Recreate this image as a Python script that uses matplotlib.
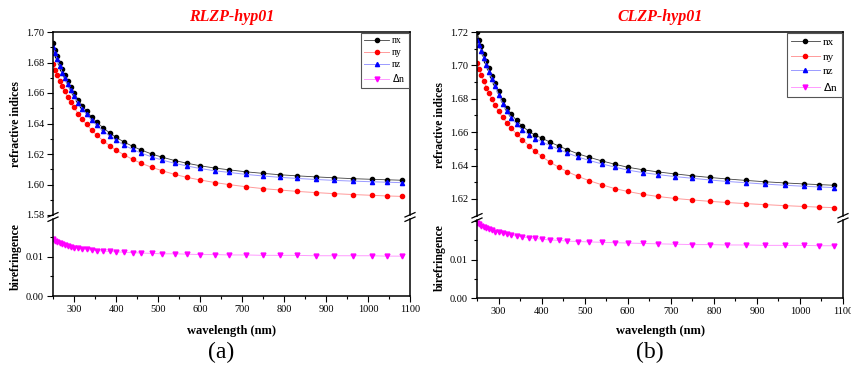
import matplotlib.pyplot as plt
from matplotlib.lines import Line2D
from matplotlib.ticker import FormatStrFormatter, MultipleLocator

plt.rcParams['font.family'] = ['Liberation Serif', 'DejaVu Serif']

# wavelength grid (nm), shared by both samples
wavelength = [250, 255, 260, 266, 272, 278, 285, 292, 300, 310, 320, 330, 342, 355,
              370, 385, 400, 420, 440, 460, 485, 510, 540, 570, 600, 635, 670, 710,
              750, 790, 830, 875, 920, 965, 1010, 1045, 1080]

# (a) RLZP-hyp01
rlzp_nx = [1.6928, 1.6884, 1.6844, 1.6799, 1.6757, 1.6719, 1.6678, 1.6640, 1.6601, 1.6556,
           1.6517, 1.6481, 1.6443, 1.6407, 1.6370, 1.6338, 1.6310, 1.6277, 1.6250, 1.6226,
           1.6200, 1.6179, 1.6157, 1.6139, 1.6123, 1.6108, 1.6096, 1.6083, 1.6073, 1.6064,
           1.6057, 1.6050, 1.6044, 1.6038, 1.6034, 1.6031, 1.6028]
rlzp_ny = [1.6790, 1.6753, 1.6719, 1.6680, 1.6644, 1.6611, 1.6574, 1.6540, 1.6505, 1.6464,
           1.6427, 1.6394, 1.6357, 1.6322, 1.6286, 1.6254, 1.6226, 1.6193, 1.6164, 1.6139,
           1.6113, 1.6090, 1.6066, 1.6046, 1.6030, 1.6013, 1.5999, 1.5985, 1.5973, 1.5964,
           1.5955, 1.5947, 1.5940, 1.5934, 1.5929, 1.5925, 1.5922]
rlzp_nz = [1.6903, 1.6860, 1.6820, 1.6776, 1.6734, 1.6697, 1.6656, 1.6619, 1.6580, 1.6535,
           1.6497, 1.6461, 1.6423, 1.6387, 1.6350, 1.6318, 1.6290, 1.6257, 1.6230, 1.6206,
           1.6181, 1.6160, 1.6139, 1.6121, 1.6105, 1.6090, 1.6079, 1.6066, 1.6056, 1.6047,
           1.6040, 1.6033, 1.6027, 1.6022, 1.6018, 1.6015, 1.6012]
rlzp_dn = [0.0145, 0.0141, 0.0138, 0.0135, 0.0132, 0.0130, 0.0128, 0.0126, 0.0124, 0.0122,
           0.0120, 0.0119, 0.0117, 0.0116, 0.0115, 0.0114, 0.0113, 0.0112, 0.0111, 0.0110,
           0.0109, 0.0108, 0.0108, 0.0107, 0.0106, 0.0106, 0.0105, 0.0105, 0.0104, 0.0104,
           0.0104, 0.0103, 0.0103, 0.0103, 0.0103, 0.0102, 0.0102]

# (b) CLZP-hyp01
clzp_nx = [1.7200, 1.7155, 1.7115, 1.7070, 1.7025, 1.6985, 1.6938, 1.6895, 1.6845, 1.6790,
           1.6745, 1.6707, 1.6670, 1.6637, 1.6606, 1.6582, 1.6565, 1.6540, 1.6517, 1.6495,
           1.6470, 1.6450, 1.6428, 1.6408, 1.6390, 1.6375, 1.6362, 1.6350, 1.6339, 1.6329,
           1.6320, 1.6311, 1.6303, 1.6296, 1.6290, 1.6286, 1.6282]
clzp_ny = [1.7015, 1.6978, 1.6943, 1.6904, 1.6867, 1.6833, 1.6796, 1.6761, 1.6725, 1.6688,
           1.6654, 1.6623, 1.6589, 1.6556, 1.6520, 1.6485, 1.6455, 1.6420, 1.6390, 1.6363,
           1.6335, 1.6310, 1.6285, 1.6262, 1.6245, 1.6228, 1.6215, 1.6203, 1.6194, 1.6186,
           1.6179, 1.6172, 1.6166, 1.6160, 1.6155, 1.6151, 1.6148]
clzp_nz = [1.7155, 1.7120, 1.7085, 1.7044, 1.7001, 1.6962, 1.6917, 1.6875, 1.6825, 1.6770,
           1.6724, 1.6686, 1.6647, 1.6615, 1.6585, 1.6561, 1.6544, 1.6519, 1.6497, 1.6475,
           1.6451, 1.6431, 1.6410, 1.6391, 1.6373, 1.6358, 1.6346, 1.6334, 1.6324, 1.6314,
           1.6305, 1.6297, 1.6289, 1.6282, 1.6276, 1.6272, 1.6268]
clzp_dn = [0.0196, 0.0192, 0.0188, 0.0185, 0.0182, 0.0179, 0.0176, 0.0173, 0.0171, 0.0168,
           0.0166, 0.0164, 0.0161, 0.0159, 0.0157, 0.0155, 0.0153, 0.0151, 0.0150, 0.0148,
           0.0147, 0.0146, 0.0145, 0.0144, 0.0143, 0.0142, 0.0141, 0.0140, 0.0139, 0.0139,
           0.0138, 0.0138, 0.0137, 0.0137, 0.0137, 0.0136, 0.0136]

titles = ["RLZP-hyp01", "CLZP-hyp01"]
panel_tags = ["(a)", "(b)"]
legend_labels = ["nx", "ny", "nz", r"$\Delta$n"]

W, H = 851, 366
fig = plt.figure(figsize=(W / 100, H / 100), dpi=100)


def px_axes(l, t, r, b):
    return fig.add_axes([l / W, 1 - b / H, (r - l) / W, (b - t) / H])


def break_mark(x, y):
    for dy in (-2.2, 2.2):
        fig.add_artist(Line2D([(x - 5) / W, (x + 5) / W],
                              [1 - (y + dy + 2.2) / H, 1 - (y + dy - 2.2) / H],
                              color='black', lw=0.9))


# pixel layout: left, right, top, break, bottom
layouts = [
    dict(l=53, r=410, t=32, brk=217, b=296, top_lim=(1.58, 1.70), top_ticks=(1.58, 1.70),
         bot_top=0.0197, leg_fs=7, leg_sp=0.3),
    dict(l=477, r=843, t=32, brk=218, b=298, top_lim=(1.6098, 1.72), top_ticks=(1.62, 1.72),
         bot_top=0.0203, leg_fs=8, leg_sp=0.45),
]
data = [(rlzp_nx, rlzp_ny, rlzp_nz, rlzp_dn), (clzp_nx, clzp_ny, clzp_nz, clzp_dn)]

for i in range(2):
    L = layouts[i]
    nx, ny, nz, dn = data[i]
    ax_top = px_axes(L['l'], L['t'], L['r'], L['brk'] - 2)
    ax_bot = px_axes(L['l'], L['brk'] + 2, L['r'], L['b'])

    h1, = ax_top.plot(wavelength, nx, '-', color='#404040', lw=0.6, marker='o', ms=3,
                      mfc='black', mec='black')
    h2, = ax_top.plot(wavelength, ny, '-', color='#ff9a9a', lw=0.7, marker='o', ms=3,
                      mfc='red', mec='red')
    h3, = ax_top.plot(wavelength, nz, '-', color='#9a9aff', lw=0.7, marker='^', ms=3,
                      mfc='blue', mec='blue')
    h4, = ax_bot.plot(wavelength, dn, '-', color='#ff9aff', lw=0.7, marker='v', ms=3.5,
                      mfc='magenta', mec='magenta')

    for ax in (ax_top, ax_bot):
        ax.set_xlim(250, 1100)
        for s in ax.spines.values():
            s.set_linewidth(1.1)
        ax.tick_params(which='both', direction='out', width=0.8, labelsize=7.5,
                       right=False, top=False, pad=2.5)
        ax.tick_params(which='major', length=4)
        ax.tick_params(which='minor', length=2.5)

    ax_top.spines['bottom'].set_visible(False)
    ax_top.tick_params(axis='x', which='both', bottom=False, labelbottom=False)
    ax_top.set_ylim(*L['top_lim'])
    lo, hi = L['top_ticks']
    ax_top.set_yticks([round(lo + 0.02 * k, 2) for k in range(int(round((hi - lo) / 0.02)) + 1)])
    ax_top.yaxis.set_minor_locator(MultipleLocator(0.01))
    ax_top.yaxis.set_major_formatter(FormatStrFormatter('%.2f'))

    ax_bot.spines['top'].set_visible(False)
    ax_bot.set_ylim(0, L['bot_top'])
    ax_bot.set_yticks([0.00, 0.01])
    ax_bot.yaxis.set_minor_locator(MultipleLocator(0.005))
    ax_bot.yaxis.set_major_formatter(FormatStrFormatter('%.2f'))
    ax_bot.set_xticks(range(300, 1101, 100))
    ax_bot.xaxis.set_minor_locator(MultipleLocator(50))

    leg = ax_top.legend([h1, h2, h3, h4], legend_labels, loc='upper right',
                        fontsize=L['leg_fs'], fancybox=False, framealpha=1,
                        edgecolor='#555555', borderaxespad=0.1, handlelength=2.6,
                        labelspacing=L['leg_sp'], borderpad=0.35, handletextpad=0.3)
    leg.get_frame().set_linewidth(0.8)

    break_mark(L['l'], L['brk'])
    break_mark(L['r'], L['brk'])

    cx = (L['l'] + L['r']) / 2
    fig.text(cx / W, 1 - 17 / H, titles[i], color='red', fontsize=11.5, fontweight='bold',
             fontstyle='italic', ha='center', va='center')
    fig.text((L['l'] - 37) / W, 1 - (L['t'] + L['brk']) / 2 / H, 'refractive indices',
             rotation=90, fontsize=8.5, fontweight='bold', ha='center', va='center')
    fig.text((L['l'] - 37) / W, 1 - (L['brk'] + L['b']) / 2 / H, 'birefringence',
             rotation=90, fontsize=8.5, fontweight='bold', ha='center', va='center')
    fig.text(cx / W, 1 - 331 / H, 'wavelength (nm)', fontsize=9, fontweight='bold',
             ha='center', va='center')
    fig.text((cx - 10) / W, 1 - 352 / H, panel_tags[i], fontsize=17, ha='center',
             va='center')

plt.savefig('out.png', dpi=100)
